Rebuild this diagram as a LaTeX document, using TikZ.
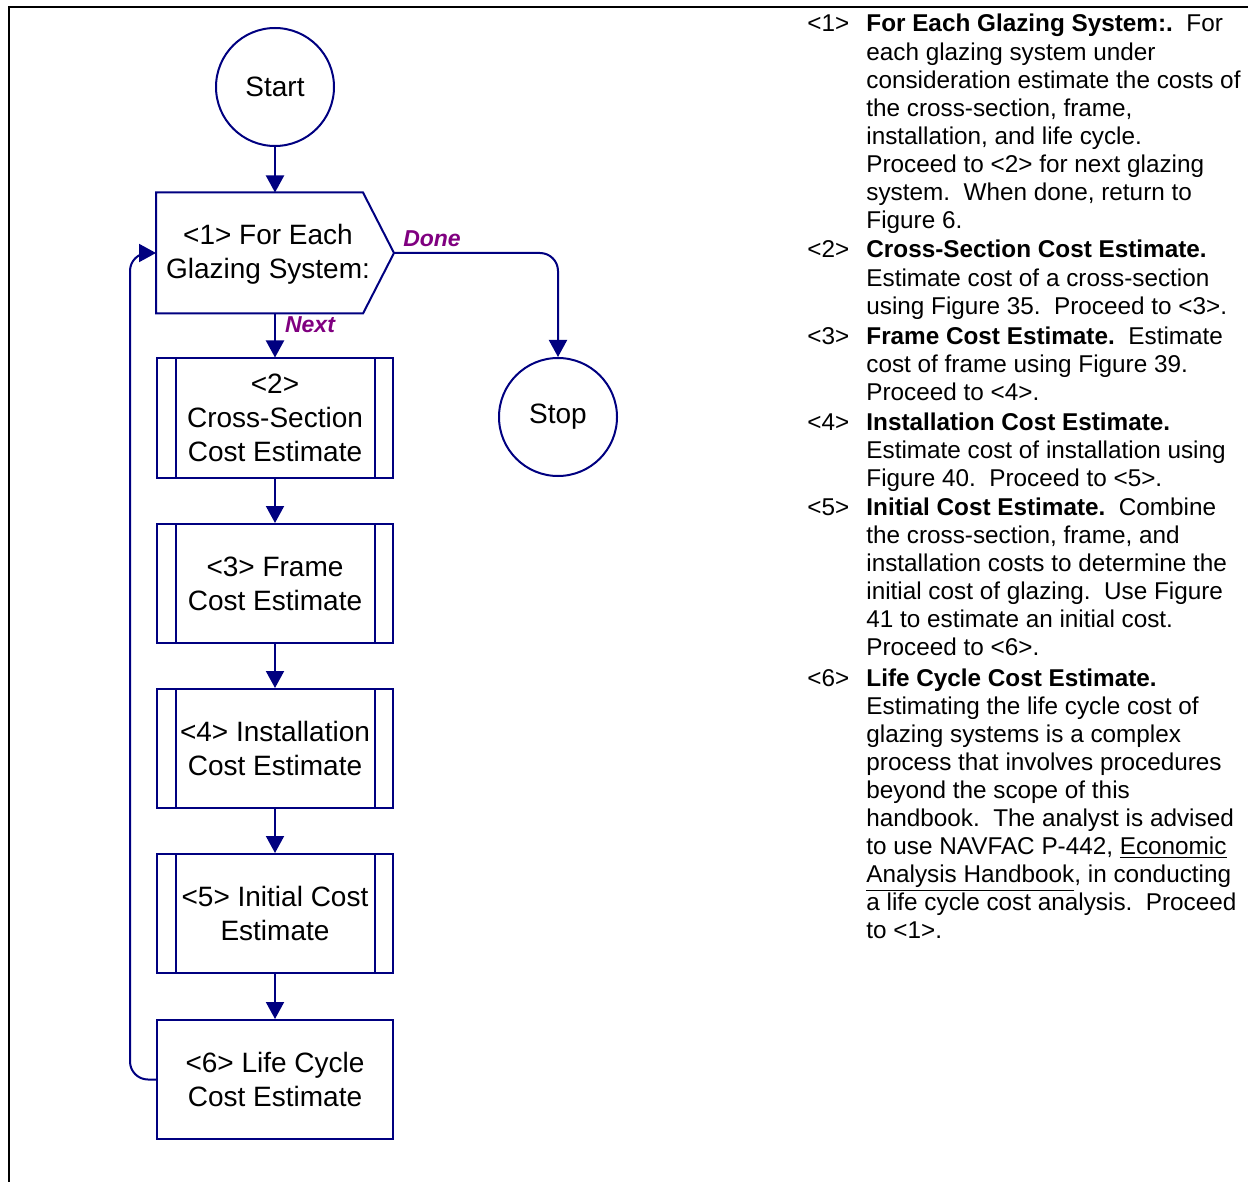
\documentclass[tikz,border=0pt]{standalone}
\usepackage{fontspec}
\setmainfont{Liberation Sans}
\usetikzlibrary{arrows.meta}
\definecolor{azul}{RGB}{0,0,128}
\definecolor{roxo}{RGB}{128,0,128}
\tikzset{
  linha/.style={draw=azul, line width=1pt},
  seta/.style={linha, -{Triangle[width=9pt,length=8.5pt]}},
  terminal/.style={linha, circle, minimum size=59pt, inner sep=0pt, font=\fontsize{14}{17}\selectfont},
  caixa/.style={linha, rectangle, minimum width=118pt, minimum height=59.5pt, inner sep=0pt, align=center, font=\fontsize{14}{17}\selectfont},
  subproc/.style={caixa, path picture={
      \draw[azul, line width=1pt] ([xshift=9.5pt]path picture bounding box.north west) -- ([xshift=9.5pt]path picture bounding box.south west);
      \draw[azul, line width=1pt] ([xshift=-9.25pt]path picture bounding box.north east) -- ([xshift=-9.25pt]path picture bounding box.south east);}},
  rotulo/.style={font=\fontsize{11.5}{14}\selectfont\bfseries\itshape, text=roxo, inner sep=0pt},
  nota/.style={anchor=base west, inner sep=0pt, font=\fontsize{12.15}{14.05}\selectfont},
}
\begin{document}
\begin{tikzpicture}[x=0.5pt, y=-0.5pt]
  \useasboundingbox (0,0) rectangle (1248,1182);
  \draw[line width=1pt] (1248,7) -- (9,7) -- (9,1182); % moldura
  % fluxograma
  \node[terminal] (inicio) at (275,87) {Start};
  \node[caixa, draw=none] (g1) at (275,253) {}; % laco
  \draw[linha] (g1.north west) -- ([xshift=-15.5pt]g1.north east) -- (g1.east)
    -- ([xshift=-15.5pt]g1.south east) -- (g1.south west) -- cycle; % contorno do laco
  \node[caixa, draw=none, minimum width=0pt, minimum height=0pt] (g1t) at (268,254) {<1> For Each\\Glazing System:};
  \node[subproc] (b2) at (275,418) {<2>\\Cross-Section\\Cost Estimate};
  \node[subproc] (b3) at (275,583.5) {<3> Frame\\Cost Estimate};
  \node[subproc] (b4) at (275,748.5) {<4> Installation\\Cost Estimate};
  \node[subproc] (b5) at (275,913.5) {<5> Initial Cost\\Estimate};
  \node[caixa] (b6) at (275,1079.5) {<6> Life Cycle\\Cost Estimate};
  \node[terminal] (fim) at (558,417) {Stop};
  % setas
  \draw[seta] (inicio) -- (g1.north);
  \draw[seta] (g1.south) -- (b2.north);
  \foreach \a/\b in {b2/b3,b3/b4,b4/b5,b5/b6}
    \draw[seta] (\a.south) -- (\b.north);
  \draw[seta, rounded corners=9pt] (g1.east) -| (fim.north); % Done
  \draw[seta, rounded corners=9pt] (b6.west) -- ++(-26,0) |- (g1.west); % volta ao laco
  \node[rotulo] (done) at (432,239) {Done};
  \node[rotulo] (next) at (310,325) {Next};
  % notas
  \node[nota] (n1) at (807,32) {<1>};
  \node[nota] (t1) at (866,32) {\parbox[t]{220pt}{\textbf{For Each Glazing System:.}\ \ For\\
    each glazing system under\\
    consideration estimate the costs of\\
    the cross-section, frame,\\
    installation, and life cycle.\\
    Proceed to <2> for next glazing\\
    system.\ \ When done, return to\\
    Figure 6.}};
  \node[nota] (n2) at (807,258) {<2>};
  \node[nota] (t2) at (866,258) {\parbox[t]{220pt}{\textbf{Cross-Section Cost Estimate.}\\
    Estimate cost of a cross-section\\
    using Figure 35.\ \ Proceed to <3>.}};
  \node[nota] (n3) at (807,344) {<3>};
  \node[nota] (t3) at (866,344) {\parbox[t]{220pt}{\textbf{Frame Cost Estimate.}\ \ Estimate\\
    cost of frame using Figure 39.\\
    Proceed to <4>.}};
  \node[nota] (n4) at (807,430) {<4>};
  \node[nota] (t4) at (866,430) {\parbox[t]{220pt}{\textbf{Installation Cost Estimate.}\\
    Estimate cost of installation using\\
    Figure 40.\ \ Proceed to <5>.}};
  \node[nota] (n5) at (807,515) {<5>};
  \node[nota] (t5) at (866,515) {\parbox[t]{220pt}{\textbf{Initial Cost Estimate.}\ \ Combine\\
    the cross-section, frame, and\\
    installation costs to determine the\\
    initial cost of glazing.\ \ Use Figure\\
    41 to estimate an initial cost.\\
    Proceed to <6>.}};
  \node[nota] (n6) at (807,686) {<6>};
  \node[nota] (t6) at (866,686) {\parbox[t]{220pt}{\textbf{Life Cycle Cost Estimate.}\\
    Estimating the life cycle cost of\\
    glazing systems is a complex\\
    process that involves procedures\\
    beyond the scope of this\\
    handbook.\ \ The analyst is advised\\
    to use NAVFAC P-442, \underline{Economic}\\
    \underline{Analysis Handbook}, in conducting\\
    a life cycle cost analysis.\ \ Proceed\\
    to <1>.}};
\end{tikzpicture}
\end{document}
